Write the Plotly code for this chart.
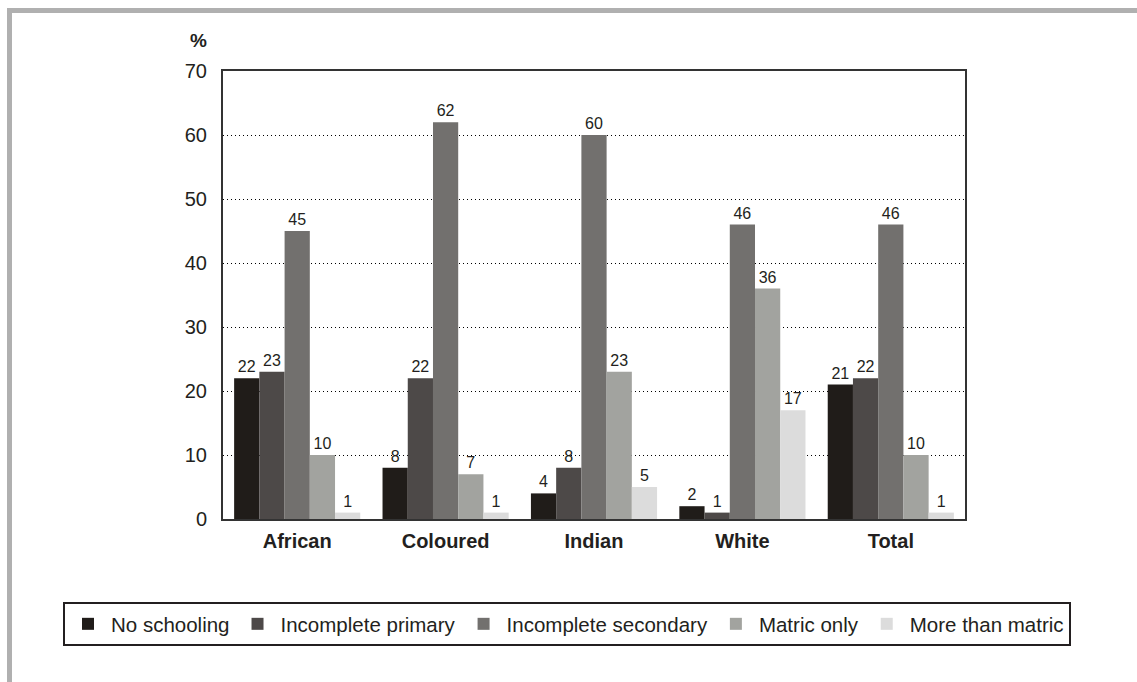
import plotly.graph_objects as go

# Population groups and schooling levels (percentages)
groups = ["African", "Coloured", "Indian", "White", "Total"]
levels = ["No schooling", "Incomplete primary", "Incomplete secondary",
          "Matric only", "More than matric"]
no_schooling = [22, 8, 4, 2, 21]
incomplete_primary = [23, 22, 8, 1, 22]
incomplete_secondary = [45, 62, 60, 46, 46]
matric_only = [10, 7, 23, 36, 10]
more_than_matric = [1, 1, 5, 17, 1]
series = [no_schooling, incomplete_primary, incomplete_secondary,
          matric_only, more_than_matric]
colors = ["#201c19", "#4d4948", "#72706e", "#a2a39f", "#dcdcdc"]

FONT = "Liberation Sans, Arial, sans-serif"
INK = "#231f20"

# Paper area is wider than the plotted frame so the one-row legend fits.
W, H = 1137, 682
ML, MR, MT, MB = 223, 50, 71, 163
PW = W - ML - MR
FRAME_W = 742


def px_x(px):
    return (px - ML) / PW


def px_y(py):
    return (H - MB - py) / (H - MT - MB)


fig = go.Figure()
for name, vals, col in zip(levels, series, colors):
    fig.add_trace(go.Bar(
        x=groups, y=vals, name=name,
        marker=dict(color=col, line=dict(width=0)),
        text=[str(v) for v in vals], textposition="outside",
        textfont=dict(family=FONT, size=16, color=INK),
        cliponaxis=False,
    ))

fig.update_layout(
    width=W, height=H,
    margin=dict(l=ML, r=MR, t=MT, b=MB),
    paper_bgcolor="white", plot_bgcolor="white",
    barmode="group", bargap=0.15, bargroupgap=0,
    font=dict(family=FONT, color=INK),
    showlegend=True,
    legend=dict(
        orientation="h", x=px_x(63), xanchor="left", y=px_y(602), yanchor="top",
        bordercolor="#231f20", borderwidth=2, bgcolor="white",
        font=dict(family=FONT, size=20.5, color=INK),
        itemwidth=36, traceorder="normal",
    ),
    xaxis=dict(
        domain=[0, FRAME_W / PW],
        showline=True, mirror=True, linecolor="#333333", linewidth=2,
        showgrid=False, ticks="",
        tickfont=dict(family=FONT, size=20, color=INK, weight="bold"),
        ticklabelstandoff=3,
    ),
    yaxis=dict(
        range=[0, 70], dtick=10,
        showline=True, mirror=True, linecolor="#333333", linewidth=2,
        showgrid=True, gridcolor="#000000", griddash="1px,3px", gridwidth=1,
        zeroline=False, ticks="",
        tickfont=dict(family=FONT, size=20, color=INK),
        ticklabelstandoff=10,
    ),
    annotations=[dict(
        text="<b>%</b>", x=px_x(198), y=px_y(41), xref="paper", yref="paper",
        xanchor="center", yanchor="middle", showarrow=False,
        font=dict(family=FONT, size=19, color=INK),
    )],
    shapes=[dict(
        type="rect", xref="paper", yref="paper",
        x0=px_x(9.5), x1=px_x(1300), y0=px_y(800), y1=px_y(10.5),
        line=dict(color="#b0b0b0", width=5), fillcolor="rgba(0,0,0,0)",
        layer="below",
    )],
)

fig.write_html("out.html")
